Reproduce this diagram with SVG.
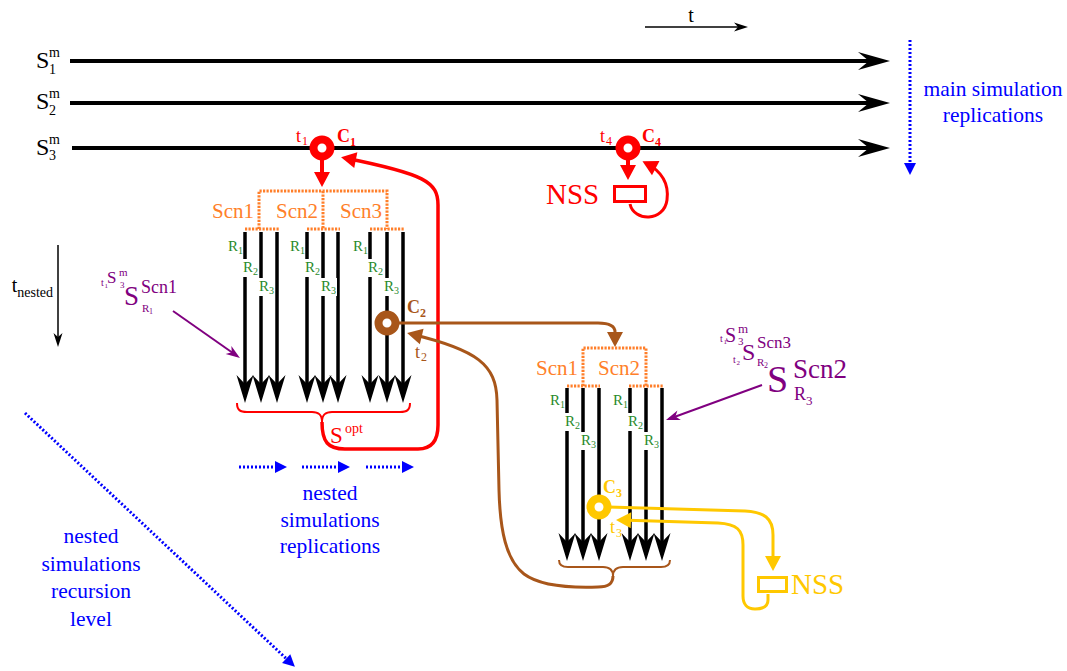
<svg xmlns="http://www.w3.org/2000/svg" width="1067" height="671" viewBox="0 0 1067 671">
<defs>
<marker id="mBig" markerUnits="userSpaceOnUse" viewBox="-23 -10 34 20" markerWidth="34" markerHeight="20" refX="0" refY="0" orient="auto" overflow="visible"><path d="M10,0 L-22,-9 L-11,0 L-22,9 Z" fill="#000"/></marker>
<marker id="mV" markerUnits="userSpaceOnUse" viewBox="-21 -10 30 20" markerWidth="30" markerHeight="20" refX="0" refY="0" orient="auto" overflow="visible"><path d="M8,0 L-20,-8.5 L-11,0 L-20,8.5 Z" fill="#000"/></marker>
<marker id="mThin" markerUnits="userSpaceOnUse" viewBox="-12 -6 16 12" markerWidth="16" markerHeight="12" refX="0" refY="0" orient="auto" overflow="visible"><path d="M3,0 L-11,-4.5 L-7,0 L-11,4.5 Z" fill="#000"/></marker>
<marker id="mRed" markerUnits="userSpaceOnUse" viewBox="-12 -9 17 18" markerWidth="17" markerHeight="18" refX="0" refY="0" orient="auto" overflow="visible"><path d="M4,0 L-11,-8 L-11,8 Z" fill="#ff0000"/></marker>
<marker id="mBrown" markerUnits="userSpaceOnUse" viewBox="-12 -9 17 18" markerWidth="17" markerHeight="18" refX="0" refY="0" orient="auto" overflow="visible"><path d="M4,0 L-11,-8 L-11,8 Z" fill="#a8561a"/></marker>
<marker id="mYel" markerUnits="userSpaceOnUse" viewBox="-12 -9 17 18" markerWidth="17" markerHeight="18" refX="0" refY="0" orient="auto" overflow="visible"><path d="M4,0 L-11,-8 L-11,8 Z" fill="#ffc800"/></marker>
<marker id="mPur" markerUnits="userSpaceOnUse" viewBox="-12 -6 16 12" markerWidth="16" markerHeight="12" refX="0" refY="0" orient="auto" overflow="visible"><path d="M3,0 L-11,-5 L-7,0 L-11,5 Z" fill="#800080"/></marker>
<marker id="mBlue" markerUnits="userSpaceOnUse" viewBox="-9 -7 14 14" markerWidth="14" markerHeight="14" refX="0" refY="0" orient="auto" overflow="visible"><path d="M4,0 L-8,-6 L-8,6 Z" fill="#0000ff"/></marker>
</defs>
<rect width="1067" height="671" fill="#fff"/>

<g id="time-axis">
<line x1="645" y1="27" x2="745" y2="27" stroke="#000" stroke-width="1.5" marker-end="url(#mThin)"/>
<text style="font-family:'Liberation Serif','Times New Roman',serif" x="691" y="22" font-size="20" text-anchor="middle" fill="#000">t</text>
</g>

<g id="main-S1">
<line x1="70" y1="61" x2="880" y2="61" stroke="#000" stroke-width="4" marker-end="url(#mBig)"/>
<text style="font-family:'Liberation Serif','Times New Roman',serif" fill="#000" font-size="24"><tspan x="36" y="68">S</tspan><tspan x="49" y="57" font-size="14">m</tspan><tspan x="49" y="74" font-size="14">1</tspan></text>
</g>
<g id="main-S2">
<line x1="70" y1="103" x2="880" y2="103" stroke="#000" stroke-width="4" marker-end="url(#mBig)"/>
<text style="font-family:'Liberation Serif','Times New Roman',serif" fill="#000" font-size="24"><tspan x="36" y="109">S</tspan><tspan x="49" y="98" font-size="14">m</tspan><tspan x="49" y="115" font-size="14">2</tspan></text>
</g>
<g id="main-S3">
<line x1="72" y1="148" x2="880" y2="148" stroke="#000" stroke-width="4" marker-end="url(#mBig)"/>
<text style="font-family:'Liberation Serif','Times New Roman',serif" fill="#000" font-size="24"><tspan x="36" y="155">S</tspan><tspan x="49" y="144" font-size="14">m</tspan><tspan x="49" y="160" font-size="14">3</tspan></text>
</g>
<g id="main-replications-label">
<line x1="910" y1="40" x2="910" y2="171" stroke="#0000ff" stroke-width="3" stroke-dasharray="2 2" marker-end="url(#mBlue)"/>
<g font-size="21.5" fill="#0000ff" text-anchor="middle">
<text style="font-family:'Liberation Serif','Times New Roman',serif" x="993" y="96">main simulation</text>
<text style="font-family:'Liberation Serif','Times New Roman',serif" x="993" y="122">replications</text>
</g>
</g>

<g id="t-nested">
<line x1="58" y1="245" x2="58" y2="344" stroke="#000" stroke-width="1.5" marker-end="url(#mThin)"/>
<text style="font-family:'Liberation Serif','Times New Roman',serif" fill="#000" x="53" y="292" font-size="20" text-anchor="end">t<tspan font-size="14" dy="5">nested</tspan></text>
</g>

<g id="scenarios-1">
<path d="M259,229 L259,191 L387,191 L387,229 M323,191 L323,229 M245,229 L279,229 M307,229 L340,229 M370,229 L404,229" stroke="#ff7f2a" stroke-width="3" fill="none" stroke-dasharray="2.2 1.3"/>
<g font-size="21" fill="#ff7f2a" text-anchor="middle">
<text style="font-family:'Liberation Serif','Times New Roman',serif" x="233" y="218">Scn1</text>
<text style="font-family:'Liberation Serif','Times New Roman',serif" x="297" y="218">Scn2</text>
<text style="font-family:'Liberation Serif','Times New Roman',serif" x="361" y="218">Scn3</text>
</g>
</g>
<g id="replications-1">
<g stroke="#000" stroke-width="3.5" marker-end="url(#mV)">
<line x1="245" y1="232" x2="245" y2="395"/>
<line x1="261" y1="232" x2="261" y2="395"/>
<line x1="277" y1="232" x2="277" y2="395"/>
<line x1="307" y1="232" x2="307" y2="395"/>
<line x1="323" y1="232" x2="323" y2="395"/>
<line x1="338" y1="232" x2="338" y2="395"/>
<line x1="370" y1="232" x2="370" y2="395"/>
<line x1="387" y1="232" x2="387" y2="395"/>
<line x1="403" y1="232" x2="403" y2="395"/>
</g>
<g fill="#fff">
<rect x="241" y="259" width="18" height="18"/>
<rect x="257" y="278" width="18" height="18"/>
<rect x="303" y="259" width="18" height="18"/>
<rect x="319" y="278" width="18" height="18"/>
<rect x="366" y="259" width="18" height="18"/>
<rect x="382" y="278" width="18" height="18"/>
</g>
<g font-size="15" fill="#2a8a2a">
<text style="font-family:'Liberation Serif','Times New Roman',serif"><tspan x="228" y="251">R</tspan><tspan font-size="10" dy="3">1</tspan></text>
<text style="font-family:'Liberation Serif','Times New Roman',serif"><tspan x="243" y="272">R</tspan><tspan font-size="10" dy="3">2</tspan></text>
<text style="font-family:'Liberation Serif','Times New Roman',serif"><tspan x="259" y="291">R</tspan><tspan font-size="10" dy="3">3</tspan></text>
<text style="font-family:'Liberation Serif','Times New Roman',serif"><tspan x="290" y="251">R</tspan><tspan font-size="10" dy="3">1</tspan></text>
<text style="font-family:'Liberation Serif','Times New Roman',serif"><tspan x="305" y="272">R</tspan><tspan font-size="10" dy="3">2</tspan></text>
<text style="font-family:'Liberation Serif','Times New Roman',serif"><tspan x="321" y="291">R</tspan><tspan font-size="10" dy="3">3</tspan></text>
<text style="font-family:'Liberation Serif','Times New Roman',serif"><tspan x="353" y="251">R</tspan><tspan font-size="10" dy="3">1</tspan></text>
<text style="font-family:'Liberation Serif','Times New Roman',serif"><tspan x="368" y="272">R</tspan><tspan font-size="10" dy="3">2</tspan></text>
<text style="font-family:'Liberation Serif','Times New Roman',serif"><tspan x="384" y="291">R</tspan><tspan font-size="10" dy="3">3</tspan></text>
</g>
</g>
<g id="sopt">
<path d="M237,403 C237,410 240,412 247,412 L312,412 C318,412 322,414 322,422 C322,414 326,412 332,412 L400,412 C407,412 410,410 410,403" fill="none" stroke="#ff0000" stroke-width="2"/>
<text style="font-family:'Liberation Serif','Times New Roman',serif" fill="#ff0000"><tspan x="330" y="443" font-size="23">S</tspan><tspan x="345" y="433" font-size="14">opt</tspan></text>
</g>
<g id="nested-replications-label">
<g stroke="#0000ff" stroke-width="3" stroke-dasharray="2 2" marker-end="url(#mBlue)">
<line x1="239" y1="467" x2="283" y2="467"/>
<line x1="302" y1="467" x2="346" y2="467"/>
<line x1="366" y1="467" x2="410" y2="467"/>
</g>
<g font-size="21.5" fill="#0000ff" text-anchor="middle">
<text style="font-family:'Liberation Serif','Times New Roman',serif" x="330" y="500">nested</text>
<text style="font-family:'Liberation Serif','Times New Roman',serif" x="330" y="527">simulations</text>
<text style="font-family:'Liberation Serif','Times New Roman',serif" x="330" y="553">replications</text>
</g>
</g>
<g id="recursion-label">
<line x1="25" y1="413" x2="292" y2="664" stroke="#0000ff" stroke-width="3" stroke-dasharray="2 2" marker-end="url(#mBlue)"/>
<g font-size="21.5" fill="#0000ff" text-anchor="middle">
<text style="font-family:'Liberation Serif','Times New Roman',serif" x="91" y="543">nested</text>
<text style="font-family:'Liberation Serif','Times New Roman',serif" x="91" y="571">simulations</text>
<text style="font-family:'Liberation Serif','Times New Roman',serif" x="91" y="598">recursion</text>
<text style="font-family:'Liberation Serif','Times New Roman',serif" x="91" y="626">level</text>
</g>
</g>

<g id="scenarios-2">
<path d="M583,386 L583,348 L646,348 L646,386 M567,386 L600,386 M629,386 L663,386" stroke="#ff7f2a" stroke-width="3" fill="none" stroke-dasharray="2.2 1.3"/>
<g font-size="21" fill="#ff7f2a" text-anchor="middle">
<text style="font-family:'Liberation Serif','Times New Roman',serif" x="557" y="375">Scn1</text>
<text style="font-family:'Liberation Serif','Times New Roman',serif" x="619" y="375">Scn2</text>
</g>
</g>
<g id="replications-2">
<g stroke="#000" stroke-width="3.5" marker-end="url(#mV)">
<line x1="567" y1="388" x2="567" y2="553"/>
<line x1="583" y1="388" x2="583" y2="553"/>
<line x1="599" y1="388" x2="599" y2="553"/>
<line x1="630" y1="388" x2="630" y2="553"/>
<line x1="646" y1="388" x2="646" y2="553"/>
<line x1="662" y1="388" x2="662" y2="553"/>
</g>
<g fill="#fff">
<rect x="563" y="413" width="18" height="18"/>
<rect x="579" y="432" width="18" height="18"/>
<rect x="626" y="413" width="18" height="18"/>
<rect x="642" y="432" width="18" height="18"/>
</g>
<g font-size="15" fill="#2a8a2a">
<text style="font-family:'Liberation Serif','Times New Roman',serif"><tspan x="550" y="405">R</tspan><tspan font-size="10" dy="3">1</tspan></text>
<text style="font-family:'Liberation Serif','Times New Roman',serif"><tspan x="565" y="426">R</tspan><tspan font-size="10" dy="3">2</tspan></text>
<text style="font-family:'Liberation Serif','Times New Roman',serif"><tspan x="581" y="445">R</tspan><tspan font-size="10" dy="3">3</tspan></text>
<text style="font-family:'Liberation Serif','Times New Roman',serif"><tspan x="613" y="405">R</tspan><tspan font-size="10" dy="3">1</tspan></text>
<text style="font-family:'Liberation Serif','Times New Roman',serif"><tspan x="628" y="426">R</tspan><tspan font-size="10" dy="3">2</tspan></text>
<text style="font-family:'Liberation Serif','Times New Roman',serif"><tspan x="644" y="445">R</tspan><tspan font-size="10" dy="3">3</tspan></text>
</g>
</g>
<g id="brace-2">
<path d="M559,560 C559,565 562,567 568,567 L603,567 C609,567 613,569 613,576 C613,569 617,567 623,567 L661,567 C667,567 670,565 670,560" fill="none" stroke="#a8561a" stroke-width="2"/>
</g>

<g id="label-left">
<text style="font-family:'Liberation Serif','Times New Roman',serif" fill="#800080"><tspan x="101" y="286" font-size="10">t</tspan><tspan x="104.5" y="288" font-size="7">1</tspan><tspan x="107" y="283" font-size="17">S</tspan><tspan x="119" y="276" font-size="11">m</tspan><tspan x="120" y="288" font-size="9">3</tspan><tspan x="124" y="305" font-size="27">S</tspan><tspan x="141" y="293" font-size="18">Scn1</tspan><tspan x="142" y="312" font-size="11">R</tspan><tspan x="149" y="314" font-size="8">1</tspan></text>
<line x1="173" y1="311" x2="237.5" y2="356.3" stroke="#800080" stroke-width="2" marker-end="url(#mPur)"/>
</g>
<g id="label-right">
<text style="font-family:'Liberation Serif','Times New Roman',serif" fill="#800080"><tspan x="720" y="342" font-size="10">t</tspan><tspan x="723.5" y="344" font-size="7">1</tspan><tspan x="725" y="342" font-size="20">S</tspan><tspan x="738" y="333" font-size="13">m</tspan><tspan x="738" y="345" font-size="11">3</tspan></text>
<text style="font-family:'Liberation Serif','Times New Roman',serif" fill="#800080"><tspan x="733" y="363" font-size="10">t</tspan><tspan x="736.5" y="365" font-size="7">2</tspan><tspan x="742" y="360" font-size="24">S</tspan><tspan x="757" y="348" font-size="17">Scn3</tspan><tspan x="757" y="366" font-size="11">R</tspan><tspan x="764" y="368" font-size="8">2</tspan></text>
<text style="font-family:'Liberation Serif','Times New Roman',serif" fill="#800080"><tspan x="767" y="392" font-size="38">S</tspan><tspan x="793" y="378" font-size="27">Scn2</tspan><tspan x="794" y="400" font-size="18">R</tspan><tspan x="806" y="405" font-size="13">3</tspan></text>
<line x1="762" y1="385" x2="668.8" y2="419" stroke="#800080" stroke-width="2" marker-end="url(#mPur)"/>
</g>

<g id="connectors" fill="none">
<line x1="322" y1="158" x2="322" y2="183" stroke="#ff0000" stroke-width="4" marker-end="url(#mRed)"/>
<path d="M322,422 C322,442 328,449 345,449 L418,449 C432,449 438,440 438,425 L438,205 C438,182 425,174 345,158" stroke="#ff0000" stroke-width="3.5" marker-end="url(#mRed)"/>
<line x1="628" y1="158" x2="628" y2="176" stroke="#ff0000" stroke-width="4" marker-end="url(#mRed)"/>
<path d="M630,204 C634,222 664,222 667,200 C669,185 663,172 646,163" stroke="#ff0000" stroke-width="3" marker-end="url(#mRed)"/>
<path d="M396,323 L598,323 C609,323 615,326 615,332 L615,343" stroke="#a8561a" stroke-width="3" marker-end="url(#mBrown)"/>
<path d="M613,576 C613,584 608,587 598,587 C570,588 540,586 524,574 C506,560 500,530 499,490 L497,400 C496,365 478,350 411,334" stroke="#a8561a" stroke-width="3" marker-end="url(#mBrown)"/>
<path d="M608,507 L745,511 C764,512 773,518 773,535 L773,567" stroke="#ffc800" stroke-width="3" marker-end="url(#mYel)"/>
<path d="M768,594 L768,600 C768,607 762,609 755,609 C747,609 743,604 743,596 L743,545 C743,530 737,524 718,523 L620,520" stroke="#ffc800" stroke-width="3" marker-end="url(#mYel)"/>
</g>

<g id="C1">
<circle cx="322" cy="148" r="8.5" fill="#fff" stroke="#ff0000" stroke-width="8"/>
<text style="font-family:'Liberation Serif','Times New Roman',serif" fill="#ff0000"><tspan x="296" y="142" font-size="18">t</tspan><tspan x="302" y="145" font-size="12">1</tspan></text>
<text style="font-family:'Liberation Serif','Times New Roman',serif" fill="#ff0000" font-weight="bold"><tspan x="337" y="142" font-size="18">C</tspan><tspan x="350" y="146" font-size="12">1</tspan></text>
</g>
<g id="C4">
<circle cx="628" cy="148" r="8.5" fill="#fff" stroke="#ff0000" stroke-width="8"/>
<text style="font-family:'Liberation Serif','Times New Roman',serif" fill="#ff0000"><tspan x="600" y="142" font-size="18">t</tspan><tspan x="606" y="145" font-size="12">4</tspan></text>
<text style="font-family:'Liberation Serif','Times New Roman',serif" fill="#ff0000" font-weight="bold"><tspan x="642" y="142" font-size="18">C</tspan><tspan x="655" y="146" font-size="12">4</tspan></text>
</g>
<g id="NSS-1">
<rect x="614.5" y="186.5" width="31" height="15" fill="#fff" stroke="#ff0000" stroke-width="3"/>
<text style="font-family:'Liberation Serif','Times New Roman',serif" x="546" y="204" font-size="29" fill="#ff0000">NSS</text>
</g>
<g id="C2">
<circle cx="387" cy="323" r="8.5" fill="#fff" stroke="#a8561a" stroke-width="8"/>
<text style="font-family:'Liberation Serif','Times New Roman',serif" fill="#a8561a" font-weight="bold"><tspan x="407" y="313" font-size="18">C</tspan><tspan x="420" y="317" font-size="12">2</tspan></text>
<text style="font-family:'Liberation Serif','Times New Roman',serif" fill="#a8561a"><tspan x="415" y="358" font-size="18">t</tspan><tspan x="421" y="361" font-size="12">2</tspan></text>
</g>
<g id="C3">
<circle cx="599" cy="507" r="8.5" fill="#fff" stroke="#ffc800" stroke-width="8"/>
<text style="font-family:'Liberation Serif','Times New Roman',serif" fill="#ffc800" font-weight="bold"><tspan x="603" y="493" font-size="18">C</tspan><tspan x="616" y="497" font-size="12">3</tspan></text>
<text style="font-family:'Liberation Serif','Times New Roman',serif" fill="#ffc800"><tspan x="610" y="533" font-size="18">t</tspan><tspan x="616" y="537" font-size="12">3</tspan></text>
</g>
<g id="NSS-2">
<rect x="758.5" y="577.5" width="28" height="14" fill="#fff" stroke="#ffc800" stroke-width="3"/>
<text style="font-family:'Liberation Serif','Times New Roman',serif" x="791" y="594" font-size="29" fill="#ffc800">NSS</text>
</g>
</svg>
